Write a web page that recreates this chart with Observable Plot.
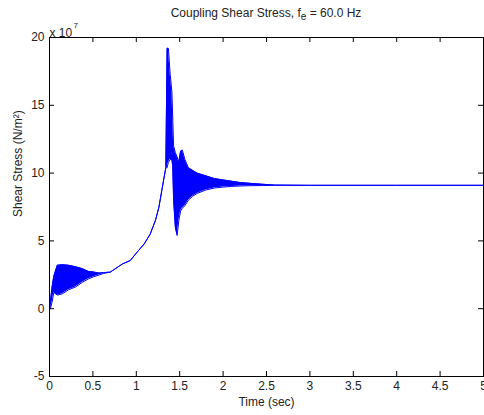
<!DOCTYPE html>
<html><head><meta charset="utf-8">
<script src="https://cdn.jsdelivr.net/npm/d3@7"></script>
<script src="https://cdn.jsdelivr.net/npm/@observablehq/plot@0.6"></script>
<style>
body{margin:0;background:#fff;font-family:"Liberation Sans",Arial,sans-serif;}
#title{height:20px;width:484px;position:relative;}
#title span{position:absolute;left:49px;width:434px;text-align:center;top:6px;font-size:12px;color:#222;white-space:nowrap;}
#title sub{font-size:10px;vertical-align:-3px;line-height:0;}
</style></head><body>
<div id="title"><span>Coupling Shear Stress, f<sub>e</sub> = 60.0 Hz</span></div>
<div id="chart"></div>
<script>
// time (sec) and envelope of the shear stress (x 10^7 N/m^2)
const time  = [0, 0.01, 0.03, 0.05, 0.09, 0.15, 0.22, 0.30, 0.38, 0.45, 0.51, 0.57, 0.62, 0.70, 0.84, 0.93, 1.00, 1.09, 1.16, 1.22, 1.26, 1.30, 1.34, 1.355, 1.37, 1.39, 1.41, 1.42, 1.43, 1.45, 1.47, 1.49, 1.51, 1.53, 1.56, 1.60, 1.65, 1.70, 1.80, 1.90, 2.00, 2.10, 2.20, 2.30, 2.45, 2.60, 3.00, 4.00, 5.00];
const upper = [0, 0.5, 1.6, 2.4, 3.2, 3.25, 3.2, 3.1, 2.95, 2.75, 2.7, 2.63, 2.65, 2.7, 3.3, 3.55, 4.1, 4.77, 5.5, 6.5, 7.47, 8.95, 10.4, 19.2, 19.2, 17.3, 16.0, 14.0, 12.0, 11.5, 11.2, 10.8, 11.6, 11.7, 11.0, 10.4, 10.2, 10.0, 9.8, 9.6, 9.5, 9.4, 9.3, 9.25, 9.18, 9.12, 9.1, 9.1, 9.1];
const lower = [0, 0.0, 0.5, 1.2, 1.0, 1.1, 1.4, 1.6, 1.95, 2.2, 2.36, 2.48, 2.6, 2.7, 3.3, 3.55, 4.1, 4.77, 5.5, 6.5, 7.47, 8.95, 10.4, 10.4, 10.8, 11.0, 11.0, 10.5, 8.0, 6.0, 5.4, 6.5, 7.2, 7.4, 7.6, 8.0, 8.3, 8.5, 8.75, 8.9, 8.97, 9.02, 9.05, 9.07, 9.08, 9.1, 9.1, 9.1, 9.1];
const xTicks = [0, 0.5, 1, 1.5, 2, 2.5, 3, 3.5, 4, 4.5, 5];
const yTicks = [-5, 0, 5, 10, 15, 20];

const data = time.map((t, i) => ({t, hi: upper[i], lo: lower[i]}));

const W = 484, H = 395, mL = 49, mR = 1, mT = 17, mB = 39;
const fw = W - mL - mR, fh = H - mT - mB, tk = 5;

const plot = Plot.plot({
  width: W, height: H,
  marginLeft: mL, marginRight: mR, marginTop: mT, marginBottom: mB,
  style: {fontFamily: "Liberation Sans, Arial, sans-serif", fontSize: "12px", color: "#222", background: "#fff", overflow: "visible"},
  x: {domain: [0, 5]},
  y: {domain: [-5, 20]},
  marks: [
    Plot.areaY(data, {x: "t", y1: "lo", y2: "hi", fill: "#0000ff"}),
    Plot.line(data, {x: "t", y: "hi", stroke: "#0000ff", strokeWidth: 1}),
    Plot.line(data, {x: "t", y: "lo", stroke: "#0000ff", strokeWidth: 1}),
    Plot.frame({stroke: "#000"}),
    // inward ticks on all four sides
    Plot.tickX(xTicks, {x: d => d, insetTop: fh - tk, stroke: "#000"}),
    Plot.tickX(xTicks, {x: d => d, insetBottom: fh - tk, stroke: "#000"}),
    Plot.tickY(yTicks, {y: d => d, insetRight: fw - tk, stroke: "#000"}),
    Plot.tickY(yTicks, {y: d => d, insetLeft: fw - tk, stroke: "#000"}),
    Plot.axisX({anchor: "bottom", ticks: xTicks, tickSize: 0, tickPadding: 5, tickFormat: d => String(d), label: null, fill: "#222"}),
    Plot.axisY({anchor: "left", ticks: yTicks, tickSize: 0, tickPadding: 5, tickFormat: d => String(d), label: null, fill: "#222"}),
    Plot.text(["Time (sec)"], {frameAnchor: "bottom", dy: 29, fill: "#222", fontSize: 12}),
    Plot.text(["Shear Stress (N/m²)"], {frameAnchor: "left", dx: -31, dy: 10, rotate: -90, fill: "#222", fontSize: 12}),
    Plot.text(["x 10"], {frameAnchor: "top-left", dy: -9, textAnchor: "start", fill: "#222", fontSize: 12}),
    Plot.text(["7"], {frameAnchor: "top-left", dx: 24, dy: -15, textAnchor: "start", fill: "#222", fontSize: 8})
  ]
});
document.getElementById("chart").appendChild(plot);
</script>
</body></html>
